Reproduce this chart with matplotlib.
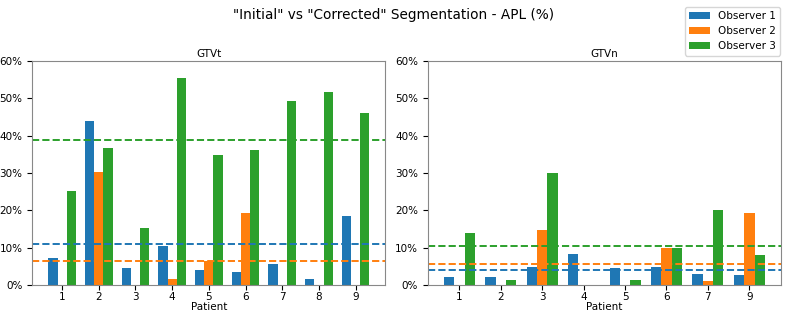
import numpy as np
import matplotlib.pyplot as plt
from matplotlib.ticker import PercentFormatter

observers = ['Observer 1', 'Observer 2', 'Observer 3']
colors = ['#1f77b4', '#ff7f0e', '#2ca02c']

# GTVt (primary tumour), APL in %
gtvt_patients = ['1', '2', '3', '4', '5', '6', '7', '8', '9']
gtvt_obs1 = [7.2, 44.0, 4.7, 10.6, 4.0, 3.6, 5.8, 1.6, 18.5]
gtvt_obs2 = [0.0, 30.4, 0.0, 1.7, 6.5, 19.2, 0.0, 0.0, 0.0]
gtvt_obs3 = [25.3, 36.6, 15.4, 55.4, 34.8, 36.3, 49.2, 51.6, 46.1]

# GTVn (lymph nodes), patient 8 has none
gtvn_patients = ['1', '2', '3', '4', '5', '6', '7', '9']
gtvn_obs1 = [2.1, 2.1, 5.0, 8.3, 4.5, 4.8, 3.0, 2.8]
gtvn_obs2 = [0.0, 0.0, 14.8, 0.0, 0.0, 10.0, 1.25, 19.3]
gtvn_obs3 = [14.1, 1.4, 30.0, 0.0, 1.3, 10.0, 20.0, 8.2]

fig, axes = plt.subplots(1, 2, figsize=(7.88, 3.17), dpi=100)
fig.subplots_adjust(left=0.041, right=0.991, top=0.808, bottom=0.1, wspace=0.12)

def plot(ax, patients, series, title):
    x = np.arange(len(patients))
    width = 0.25
    for i, vals in enumerate(series):
        ax.bar(x + (i - 1) * width, vals, width, color=colors[i], label=observers[i])
        # mean of each observer
        ax.axhline(np.mean(vals), color=colors[i], ls='--', lw=1.4)
    ax.set_xticks(x)
    ax.set_xticklabels(patients, fontsize=7.5)
    ax.set_ylim(0, 60)
    ax.set_yticks(range(0, 61, 10))
    ax.yaxis.set_major_formatter(PercentFormatter(decimals=0))
    ax.tick_params(axis='y', labelsize=7.5)
    ax.tick_params(axis='x', pad=1.5)
    ax.set_xlabel('Patient', fontsize=7.5, labelpad=0)
    ax.set_title(title, fontsize=7.5, pad=3)
    for s in ax.spines.values():
        s.set_color('#888888')

plot(axes[0], gtvt_patients, [gtvt_obs1, gtvt_obs2, gtvt_obs3], 'GTVt')
plot(axes[1], gtvn_patients, [gtvn_obs1, gtvn_obs2, gtvn_obs3], 'GTVn')

fig.suptitle('"Initial" vs "Corrected" Segmentation - APL (%)', fontsize=9.8, y=0.975)
handles, labels = axes[0].get_legend_handles_labels()
fig.legend(handles, labels, loc='upper right', fontsize=7.5, bbox_to_anchor=(0.997, 0.995))

fig.savefig('out.png', dpi=100)
